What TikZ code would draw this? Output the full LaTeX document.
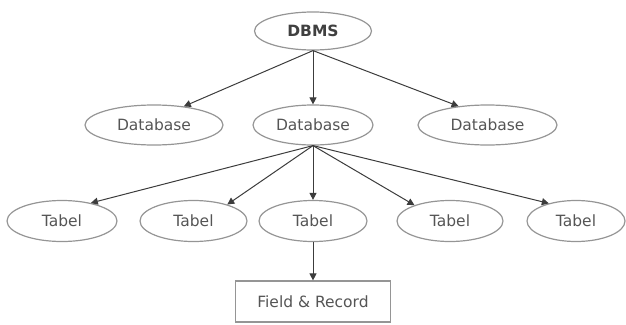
\documentclass[tikz,border=0pt]{standalone}
\usepackage{fontspec}
\setmainfont{DejaVu Sans}
\usetikzlibrary{shapes.geometric,arrows.meta}
\definecolor{edgegray}{HTML}{959595}
\definecolor{textgray}{HTML}{555555}
\definecolor{linegray}{HTML}{3C3C3C}
\begin{document}
\begin{tikzpicture}[x=1pt,y=-1pt,
  oval/.style={ellipse,draw=edgegray,line width=1.2pt,inner sep=0pt,
    text=textgray,font=\fontsize{15.5}{18}\selectfont},
  rect/.style={rectangle,draw=edgegray,line width=1.2pt,inner sep=0pt,
    text=textgray,font=\fontsize{15.5}{18}\selectfont},
  link/.style={draw=linegray,line width=1pt,
    -{Triangle[length=7pt,width=7pt]}}]
\useasboundingbox (0,0) rectangle (626,324);
% root
\node[oval,minimum width=117pt,minimum height=38pt,font=\fontsize{15.5}{18}\selectfont\bfseries,text=black!75]
  (dbms) at (313,31) {DBMS};
% databases
\node[oval,minimum width=138pt,minimum height=40pt] (db1) at (154,125) {Database};
\node[oval,minimum width=120pt,minimum height=40pt] (db2) at (313,125) {Database};
\node[oval,minimum width=139pt,minimum height=40pt] (db3) at (487.5,125) {Database};
% tables
\node[oval,minimum width=110pt,minimum height=41pt] (t1) at (62,221) {Tabel};
\node[oval,minimum width=107pt,minimum height=41pt] (t2) at (193.5,221) {Tabel};
\node[oval,minimum width=108pt,minimum height=41pt] (t3) at (313,221) {Tabel};
\node[oval,minimum width=106pt,minimum height=41pt] (t4) at (450,221) {Tabel};
\node[oval,minimum width=98pt,minimum height=41pt] (t5) at (576,221) {Tabel};
% leaf box
\node[rect,minimum width=155pt,minimum height=41pt] (fr) at (313,301.5) {Field \& Record};
% connectors
\draw[link] (dbms.south) -- (db1.32);
\draw[link] (dbms.south) -- (db2.north);
\draw[link] (dbms.south) -- (db3.147);
\draw[link] (db2.south) -- (t1.32);
\draw[link] (db2.south) -- (t2.26);
\draw[link] (db2.south) -- (t3.north);
\draw[link] (db2.south) -- (t4.156);
\draw[link] (db2.south) -- (t5.147);
\draw[link] (t3.south) -- (fr.north);
\end{tikzpicture}
\end{document}
